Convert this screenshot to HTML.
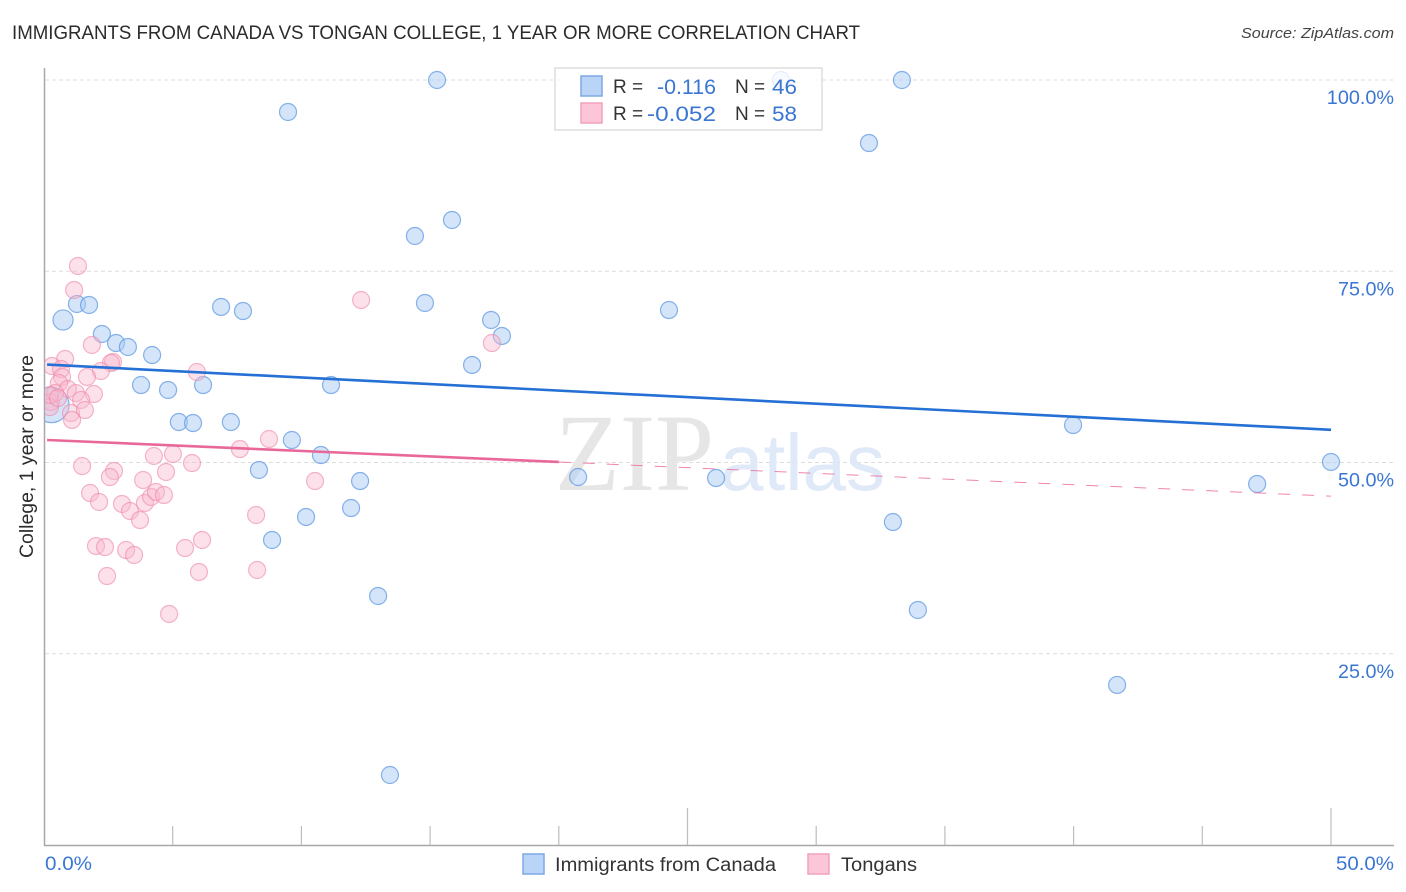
<!DOCTYPE html>
<html lang="en">
<head>
<meta charset="utf-8">
<title>Immigrants from Canada vs Tongan College Correlation Chart</title>
<style>
html,body{margin:0;padding:0;background:#fff;}
svg{display:block;font-family:"Liberation Sans",sans-serif;}
</style>
</head>
<body>
<svg id="chart" xmlns="http://www.w3.org/2000/svg" width="1406" height="892" viewBox="0 0 1406 892">
  <defs>
    <clipPath id="plot-clip"><rect x="45" y="60" width="1350" height="786"/></clipPath>
  </defs>
  <rect x="0" y="0" width="1406" height="892" fill="#ffffff"/>
  <text x="12" y="39" font-size="19" fill="#2b2b2b" textLength="848" lengthAdjust="spacingAndGlyphs">IMMIGRANTS FROM CANADA VS TONGAN COLLEGE, 1 YEAR OR MORE CORRELATION CHART</text>
  <text x="1394" y="38" font-size="15" font-style="italic" fill="#444" text-anchor="end" textLength="153" lengthAdjust="spacingAndGlyphs">Source: ZipAtlas.com</text>
  <text x="0" y="0" transform="translate(33,456.5) rotate(-90)" font-size="19" fill="#2b2b2b" text-anchor="middle" textLength="203" lengthAdjust="spacingAndGlyphs">College, 1 year or more</text>

  <g id="grid"></g>

  <g>
    <text x="555" y="490" style="font-family:'Liberation Serif',serif" font-size="110" fill="#e6e6e6" textLength="159" lengthAdjust="spacingAndGlyphs">ZIP</text>
    <text x="720" y="490" style="font-family:'Liberation Sans',sans-serif" font-size="80" fill="#dfe9f8" textLength="165" lengthAdjust="spacingAndGlyphs">atlas</text>
  </g>

  <g id="axes"></g>
  <g id="points" clip-path="url(#plot-clip)"></g>
  <g id="trends"></g>
  <g id="labels"></g>

  <g>
    <rect x="555" y="68" width="267" height="62" fill="#ffffff" fill-opacity="0.8" stroke="#dddddd" stroke-width="1.5"/>
    <rect x="581" y="76" width="21" height="20" fill="#b9d4f7" stroke="#7da9e4" stroke-width="1.5"/>
    <rect x="581" y="103" width="21" height="20" fill="#fcc6d8" stroke="#f2a2bd" stroke-width="1.5"/>
    <text x="613" y="93" font-size="19" fill="#333">R =</text>
    <text x="716" y="94" font-size="21" fill="#3a76d2" text-anchor="end" textLength="59" lengthAdjust="spacingAndGlyphs">-0.116</text>
    <text x="735" y="93" font-size="19" fill="#333">N =</text>
    <text x="772" y="94" font-size="21" fill="#3a76d2" textLength="25" lengthAdjust="spacingAndGlyphs">46</text>
    <text x="613" y="120" font-size="19" fill="#333">R =</text>
    <text x="716" y="121" font-size="21" fill="#3a76d2" text-anchor="end" textLength="69" lengthAdjust="spacingAndGlyphs">-0.052</text>
    <text x="735" y="120" font-size="19" fill="#333">N =</text>
    <text x="772" y="121" font-size="21" fill="#3a76d2" textLength="25" lengthAdjust="spacingAndGlyphs">58</text>
  </g>

  <g>
    <rect x="523" y="854" width="21" height="20" fill="#b9d4f7" stroke="#7da9e4" stroke-width="1.5"/>
    <text x="555" y="871" font-size="19" fill="#333" textLength="221" lengthAdjust="spacingAndGlyphs">Immigrants from Canada</text>
    <rect x="808" y="854" width="21" height="20" fill="#fcc6d8" stroke="#f2a2bd" stroke-width="1.5"/>
    <text x="841" y="871" font-size="19" fill="#333" textLength="76" lengthAdjust="spacingAndGlyphs">Tongans</text>
  </g>
</svg>

<script>
const yTicks = [100, 75, 50, 25];
const yTickLabels = ["100.0%", "75.0%", "50.0%", "25.0%"];
const xMinorTicks = [5, 10, 15, 20, 30, 35, 40, 45];
const xMajorTicks = [25, 50];
const xEndLabels = ["0.0%", "50.0%"];

const canadaX = [15.27,28.63,33.33,9.48,32.05,15.85,14.41,1.28,1.75,0.74,6.88,7.73,14.8,24.28,17.37,17.79,2.25,2.8,3.26,4.2,16.63,3.77,4.82,6.18,11.15,5.24,5.79,7.26,9.63,10.76,8.35,12.28,20.75,26.11,39.98,47.13,50,11.93,10.18,8.86,32.98,12.98,33.95,41.69,13.44,0.29];
const canadaY = [100,100,100,95.82,91.76,81.7,79.61,70.72,70.59,68.63,70.33,69.8,70.85,69.93,68.63,66.54,66.8,65.62,65.1,64.05,62.75,60.13,59.48,60.13,60.13,55.29,55.16,55.29,52.94,50.98,49.02,47.58,48.1,47.97,54.9,47.19,50.07,44.05,42.88,39.87,42.22,32.55,30.72,20.92,9.15,57.52];
const canadaWeights = [1,1,1,1,1,1,1,1,1,1.4,1,1,1,1,1,1,1,1,1,1,1,1,1,1,1,1,1,1,1,1,1,1,1,1,1,1,1,1,1,1,1,1,1,1,1,4.3];

const tongansX = [1.32,1.17,1.86,2.68,2.6,2.21,1.67,0.82,0.31,0.66,0.7,0.58,0.93,1.24,1.94,1.44,0.27,0.43,0.23,1.05,1.59,1.09,5.94,7.61,8.74,4.27,5.01,5.75,1.48,2.72,2.56,4.74,3.85,1.79,2.14,3.03,3.34,3.73,3.92,4.16,4.35,4.66,8.24,6.14,5.48,2.02,2.37,3.19,3.5,2.45,6.02,8.28,4.86,12.32,17.4,10.53,0.23,0.54];
const tongansY = [75.69,72.55,65.36,63.14,63.01,61.96,61.18,63.53,62.61,62.22,61.18,60.39,59.61,59.08,58.95,58.17,57.91,59.08,57.25,56.47,56.86,55.56,61.83,51.76,53.07,50.85,51.11,49.93,49.54,48.89,48.1,48.76,47.71,46.01,44.84,44.58,43.66,42.48,44.71,45.49,46.14,45.75,43.14,39.87,38.82,39.08,38.95,38.56,37.91,35.16,35.69,35.95,30.2,71.24,65.62,47.58,58.82,58.43];

const canadaTrendX = [0.12, 50];
const canadaTrendY = [62.8, 54.27];
const tongansTrendX = [0.12, 20];
const tongansTrendY = [52.94, 50.07];
const tongansTrendDashX = [20, 50];
const tongansTrendDashY = [50.07, 45.6];

const NS = "http://www.w3.org/2000/svg";
const xScale = v => 44 + v * 25.74;
const yScale = v => 80 + (100 - v) * 7.65;

function make(tag, parent, attrs) {
  const el = document.createElementNS(NS, tag);
  for (const k in attrs) el.setAttribute(k, attrs[k]);
  parent.appendChild(el);
  return el;
}

const gridG = document.getElementById("grid");
const axesG = document.getElementById("axes");
const pointsG = document.getElementById("points");
const trendsG = document.getElementById("trends");
const labelsG = document.getElementById("labels");

yTicks.forEach(function (t, i) {
  const line = make("line", gridG, {x1: 45, x2: 1394, y1: yScale(t), y2: yScale(t), stroke: "#dcdcdc", "stroke-width": 1, "stroke-dasharray": "4 3"});
  
  
  const label = make("text", labelsG, {x: 1394, y: yScale(t) + 24, "font-size": 19, fill: "#3a76d2", "text-anchor": "end", textLength: yTickLabels[i].length * 11.2, lengthAdjust: "spacingAndGlyphs"});
  label.textContent = yTickLabels[i];
  
  
});

const yAxis = make("line", axesG, {x1: 44.5, x2: 44.5, y1: 68, y2: 846, stroke: "#a8a8a8", "stroke-width": 1.5});


const xAxis = make("line", axesG, {x1: 44, x2: 1394, y1: 845.5, y2: 845.5, stroke: "#a8a8a8", "stroke-width": 1.5});



xMinorTicks.forEach(function (t) {
  const tick = make("line", axesG, {x1: xScale(t), x2: xScale(t), y1: 826, y2: 845, stroke: "#bdbdbd", "stroke-width": 1.2});
  
  
});
xMajorTicks.forEach(function (t) {
  const tick = make("line", axesG, {x1: xScale(t), x2: xScale(t), y1: 808, y2: 845, stroke: "#bdbdbd", "stroke-width": 1.2});
  
  
});

const xLabelStart = make("text", labelsG, {x: 45, y: 870, "font-size": 19, fill: "#3a76d2", textLength: 47, lengthAdjust: "spacingAndGlyphs"});
xLabelStart.textContent = xEndLabels[0];


const xLabelEnd = make("text", labelsG, {x: 1394, y: 870, "font-size": 19, fill: "#3a76d2", "text-anchor": "end", textLength: 58, lengthAdjust: "spacingAndGlyphs"});
xLabelEnd.textContent = xEndLabels[1];



canadaX.forEach(function (v, i) {
  const dot = make("circle", pointsG, {cx: xScale(v), cy: yScale(canadaY[i]), r: 8.5 * Math.sqrt(canadaWeights[i]), fill: "#a9cbf5", "fill-opacity": 0.5, stroke: "#5c95e0", "stroke-opacity": 0.72, "stroke-width": 1.2});
  
  
});
tongansX.forEach(function (v, i) {
  const dot = make("circle", pointsG, {cx: xScale(v), cy: yScale(tongansY[i]), r: 8.5, fill: "#f9b8cd", "fill-opacity": 0.42, stroke: "#ee89aa", "stroke-opacity": 0.62, "stroke-width": 1.2});
  
  
});

const canadaLine = make("line", trendsG, {x1: xScale(canadaTrendX[0]), y1: yScale(canadaTrendY[0]), x2: xScale(canadaTrendX[1]), y2: yScale(canadaTrendY[1]), stroke: "#2470d4", "stroke-width": 2.6});


const tongansLine = make("line", trendsG, {x1: xScale(tongansTrendX[0]), y1: yScale(tongansTrendY[0]), x2: xScale(tongansTrendX[1]), y2: yScale(tongansTrendY[1]), stroke: "#e9689a", "stroke-width": 2.6});


const tongansDash = make("line", trendsG, {x1: xScale(tongansTrendDashX[0]), y1: yScale(tongansTrendDashY[0]), x2: xScale(tongansTrendDashX[1]), y2: yScale(tongansTrendDashY[1]), stroke: "#e9689a", "stroke-width": 1, "stroke-dasharray": "12 12", "stroke-opacity": 0.8});


</script>
</body>
</html>
